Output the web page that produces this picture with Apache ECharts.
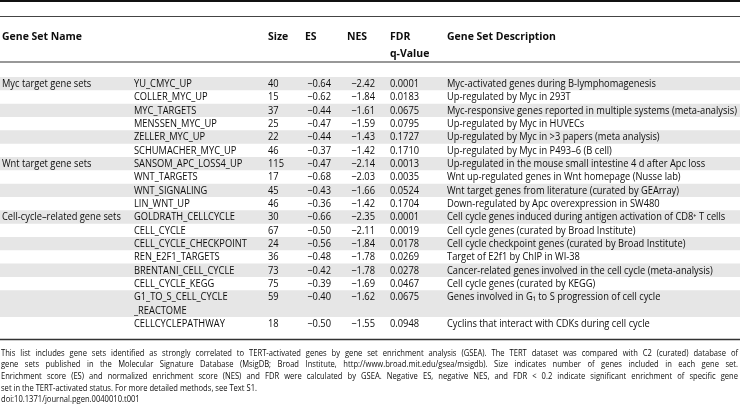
<!DOCTYPE html>
<html><head><meta charset="utf-8">
<script src="https://cdn.jsdelivr.net/npm/echarts@6/dist/echarts.min.js"></script>
<style>html,body{margin:0;padding:0;background:#fff}#c{width:740px;height:414px}</style>
</head><body><div id="c"></div>
<script>
const groups = ['Myc target gene sets', 'Wnt target gene sets', 'Cell-cycle\u2013related gene sets'];
const groupOf = [0,0,0,0,0,0,1,1,1,1,2,2,2,2,2,2,2,2];
const geneSetNames = ['YU_CMYC_UP','COLLER_MYC_UP','MYC_TARGETS','MENSSEN_MYC_UP','ZELLER_MYC_UP','SCHUMACHER_MYC_UP','SANSOM_APC_LOSS4_UP','WNT_TARGETS','WNT_SIGNALING','LIN_WNT_UP','GOLDRATH_CELLCYCLE','CELL_CYCLE','CELL_CYCLE_CHECKPOINT','REN_E2F1_TARGETS','BRENTANI_CELL_CYCLE','CELL_CYCLE_KEGG','G1_TO_S_CELL_CYCLE\n_REACTOME','CELLCYCLEPATHWAY'];
const sizes = [40,15,37,25,22,46,115,17,45,46,30,67,24,36,73,75,59,18];
const esValues = [-0.64,-0.62,-0.44,-0.47,-0.44,-0.37,-0.47,-0.68,-0.43,-0.36,-0.66,-0.50,-0.56,-0.48,-0.42,-0.39,-0.40,-0.50];
const nesValues = [-2.42,-1.84,-1.61,-1.59,-1.43,-1.42,-2.14,-2.03,-1.66,-1.42,-2.35,-2.11,-1.84,-1.78,-1.78,-1.69,-1.62,-1.55];
const fdrValues = ['0.0001','0.0183','0.0675','0.0795','0.1727','0.1710','0.0013','0.0035','0.0524','0.1704','0.0001','0.0019','0.0178','0.0269','0.0278','0.0467','0.0675','0.0948'];
const descriptions = [
 'Myc-activated genes during B-lymphomagenesis',
 'Up-regulated by Myc in 293T',
 'Myc-responsive genes reported in multiple systems (meta-analysis)',
 'Up-regulated by Myc in HUVECs',
 'Up-regulated by Myc in >3 papers (meta analysis)',
 'Up-regulated by Myc in P493\u20136 (B cell)',
 'Up-regulated in the mouse small intestine 4 d after Apc loss',
 'Wnt up-regulated genes in Wnt homepage (Nusse lab)',
 'Wnt target genes from literature (curated by GEArray)',
 'Down-regulated by Apc overexpression in SW480',
 'Cell cycle genes induced during antigen activation of CD8\u207A T cells',
 'Cell cycle genes (curated by Broad Institute)',
 'Cell cycle checkpoint genes (curated by Broad Institute)',
 'Target of E2f1 by ChIP in WI-38',
 'Cancer-related genes involved in the cell cycle (meta-analysis)',
 'Cell cycle genes (curated by KEGG)',
 'Genes involved in G\u2081 to S progression of cell cycle',
 'Cyclins that interact with CDKs during cell cycle'
];
const headers = ['Gene Set Name', 'Size', 'ES', 'NES', 'FDR\nq-Value', 'Gene Set Description'];
const footnoteLines = [
 'This list includes gene sets identified as strongly correlated to TERT-activated genes by gene set enrichment analysis (GSEA). The TERT dataset was compared with C2 (curated) database of',
 'gene sets published in the Molecular Signature Database (MsigDB; Broad Institute, http://www.broad.mit.edu/gsea/msigdb). Size indicates number of genes included in each gene set.',
 'Enrichment score (ES) and normalized enrichment score (NES) and FDR were calculated by GSEA. Negative ES, negative NES, and FDR < 0.2 indicate significant enrichment of specific gene',
 'set in the TERT-activated status. For more detailed methods, see Text S1.',
 'doi:10.1371/journal.pgen.0040010.t001'
];

// ---- layout ----
const FAMILY = '"Open Sans", "Noto Sans", sans-serif';
const TEXT = '#0d0d0d';
const SHADE = '#e6e6e6';
const COL = { group: 2, name: 134, size: 268, esRight: 331, nesRight: 375, fdr: 390, desc: 447 };
const HEAD_X = [2, 268, 305, 347, 390, 447];
const ctx = document.createElement('canvas').getContext('2d');
function tw(s, font) { ctx.font = font; return ctx.measureText(s).width; }
const BODY_SIZE = 10.8, NOTE_SIZE = 9.8, HEAD_SIZE = 10.8;
const bodyFont = BODY_SIZE + 'px ' + FAMILY;
const headFont = 'bold ' + HEAD_SIZE + 'px ' + FAMILY;
const noteFont = NOTE_SIZE + 'px ' + FAMILY;
// horizontal condensing to mimic the narrow typeface of the original
const bodySX = 290 / tw(descriptions[2], bodyFont);
const headSX = 80 / tw(headers[0], headFont);
const noteSX = 256 / tw(footnoteLines[3], noteFont);
const fmt = v => (v < 0 ? '\u2212' : '') + Math.abs(v).toFixed(2);

const lineCounts = geneSetNames.map(n => n.split('\n').length);
const slotStarts = [];
let acc = 0;
lineCounts.forEach(c => { slotStarts.push(acc); acc += c; });
const totalSlots = acc;
const ROW_H = 13.33;
const GRID_TOP = 77;

const tableData = geneSetNames.map((n, i) => [0, slotStarts[i], i]);

function txt(text, x, y, font, align, sx) {
  return { type: 'text', x, y, scaleX: sx, style: { text, x: 0, y: 0, font, fill: TEXT, align: align || 'left', textAlign: align || 'left', verticalAlign: 'top', textVerticalAlign: 'top', lineHeight: ROW_H } };
}

function renderRow(params, api) {
  const i = api.value(2);
  const s = api.value(1);
  const lines = lineCounts[i];
  const top = api.coord([0, s])[1];
  const h = api.size([0, lines])[1];
  const X = v => api.coord([v, s])[0];
  const children = [];
  if (i % 2 === 0) {
    children.push({ type: 'rect', shape: { x: X(0), y: top, width: X(740) - X(0), height: h }, style: { fill: SHADE } });
  }
  const ty = top + 0.2;
  if (i === 0 || groupOf[i] !== groupOf[i - 1]) children.push(txt(groups[groupOf[i]], X(COL.group), ty, bodyFont, 'left', bodySX));
  children.push(txt(geneSetNames[i], X(COL.name), ty, bodyFont, 'left', bodySX));
  children.push(txt(String(sizes[i]), X(COL.size), ty, bodyFont, 'left', bodySX));
  children.push(txt(fmt(esValues[i]), X(COL.esRight), ty, bodyFont, 'right', bodySX));
  children.push(txt(fmt(nesValues[i]), X(COL.nesRight), ty, bodyFont, 'right', bodySX));
  children.push(txt(fdrValues[i], X(COL.fdr), ty, bodyFont, 'left', bodySX));
  children.push(txt(descriptions[i], X(COL.desc), ty, bodyFont, 'left', bodySX));
  return { type: 'group', children };
}

// graphic: rules, header, footnote
const graphics = [];
const rule = (y, w, c) => ({ type: 'line', shape: { x1: 0, y1: y, x2: 740, y2: y }, style: { stroke: c, lineWidth: w }, silent: true });
graphics.push(rule(1, 2, '#111'));
graphics.push(rule(16.5, 1, '#444'));
graphics.push(rule(62, 1.2, '#333'));
graphics.push(rule(339.5, 1.5, '#333'));
headers.forEach((h, k) => {
  graphics.push({ type: 'text', x: HEAD_X[k], y: 29, scaleX: headSX, style: { text: h, font: headFont, fill: TEXT, lineHeight: 16.5, verticalAlign: 'top' } });
});
const NOTE_Y = [353, 364.7, 376.3, 388, 399.7];
footnoteLines.forEach((line, k) => {
  const justify = k < 3;
  if (!justify) {
    graphics.push({ type: 'text', x: 1, y: NOTE_Y[k], scaleX: noteSX, style: { text: line, font: noteFont, fill: TEXT, verticalAlign: 'middle' } });
    return;
  }
  const words = line.split(' ');
  const widths = words.map(w => tw(w, noteFont) * noteSX);
  const sum = widths.reduce((a, b) => a + b, 0);
  const gap = (737 - sum) / (words.length - 1);
  let x = 1;
  words.forEach((w, j) => {
    graphics.push({ type: 'text', x, y: NOTE_Y[k], scaleX: noteSX, style: { text: w, font: noteFont, fill: TEXT, verticalAlign: 'middle' } });
    x += widths[j] + gap;
  });
});

const chart = echarts.init(document.getElementById('c'), null, { renderer: 'canvas' });
chart.setOption({
  animation: false,
  backgroundColor: '#fff',
  grid: { left: 0, right: 0, top: GRID_TOP, height: totalSlots * ROW_H },
  xAxis: { type: 'value', min: 0, max: 740, show: false },
  yAxis: { type: 'value', min: 0, max: totalSlots, inverse: true, show: false },
  series: [{ type: 'custom', renderItem: renderRow, data: tableData, encode: { x: 0, y: 1 }, clip: false, silent: true }],
  graphic: graphics
});
</script>
</body></html>
